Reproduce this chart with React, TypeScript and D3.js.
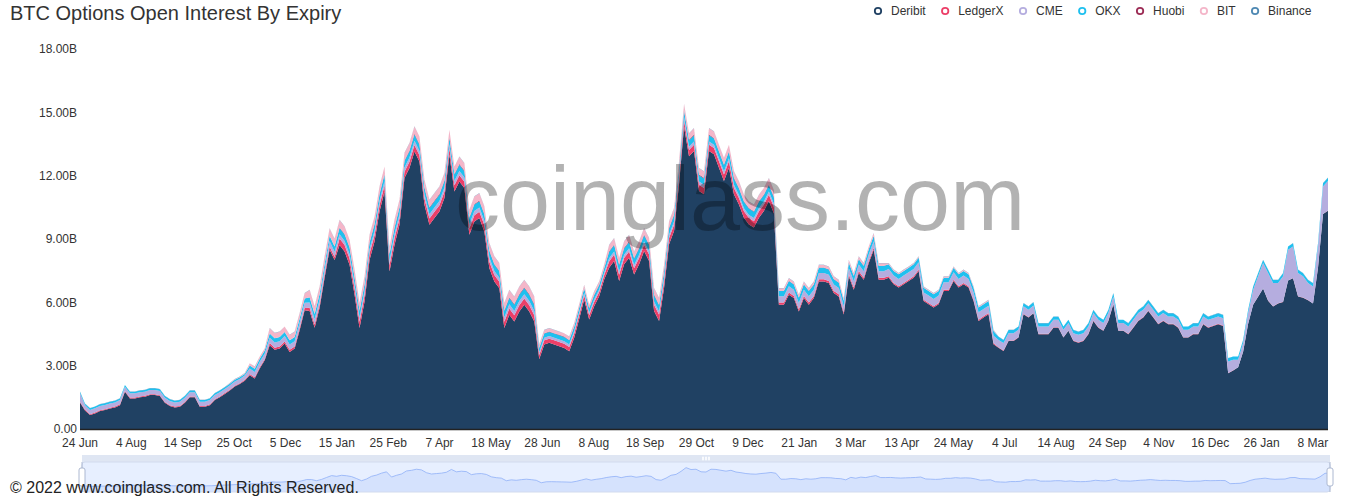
import React from 'react';
import * as d3 from 'd3';

// ---------------- DATA ----------------
const seriesNames = ['Deribit', 'LedgerX', 'CME', 'OKX', 'Huobi', 'BIT', 'Binance'];
const seriesColors = ['#204163', '#ec3f68', '#b5addf', '#1fc0ef', '#9c2c55', '#f4b6c9', '#4f89b3'];

// x-axis category labels (one label every 41 daily categories)
const xLabels = ['24 Jun', '4 Aug', '14 Sep', '25 Oct', '5 Dec', '15 Jan', '25 Feb', '7 Apr', '18 May',
  '28 Jun', '8 Aug', '18 Sep', '29 Oct', '9 Dec', '21 Jan', '3 Mar', '13 Apr', '24 May', '4 Jul',
  '14 Aug', '24 Sep', '4 Nov', '16 Dec', '26 Jan', '8 Mar'];
const categoryCount = 997;
const labelInterval = 41;

const yTicks = [0, 3, 6, 9, 12, 15, 18];

// open interest in billions USD, sampled roughly every 4 days (251 samples)
const deribit = [
  1.25, 0.88, 0.66, 0.74, 0.85, 0.90, 0.97, 1.02, 1.13, 1.76,
  1.45, 1.45, 1.50, 1.53, 1.61, 1.61, 1.56, 1.24, 1.09, 1.02,
  1.05, 1.24, 1.50, 1.50, 1.05, 1.05, 1.13, 1.37, 1.50, 1.66,
  1.82, 2.01, 2.13, 2.29, 2.55, 2.39, 2.87, 3.26, 3.97, 3.75,
  3.81, 4.05, 3.65, 3.81, 4.68, 5.63, 5.59, 4.80, 5.74, 7.17,
  8.50, 8.00, 8.72, 8.41, 7.78, 6.36, 4.78, 6.04, 8.01, 8.88,
  10.30, 11.25, 7.46, 8.72, 9.67, 11.89, 12.36, 13.15, 12.67, 10.62,
  9.67, 9.99, 10.30, 10.94, 12.99, 11.25, 11.72, 11.41, 9.20, 9.83,
  9.99, 9.36, 7.62, 6.99, 6.67, 4.78, 5.41, 5.09, 5.56, 5.88,
  5.56, 5.09, 3.31, 4.00, 4.08, 4.00, 3.92, 3.84, 3.68, 4.32,
  5.21, 6.13, 5.19, 5.82, 6.29, 7.08, 7.64, 7.96, 7.01, 7.80,
  8.11, 7.32, 7.80, 8.43, 7.96, 5.59, 5.11, 6.69, 8.75, 9.38,
  11.59, 14.32, 12.92, 13.17, 11.27, 11.12, 13.17, 13.01, 12.38, 11.75,
  12.38, 11.12, 10.64, 10.01, 9.69, 9.54, 10.01, 10.33, 10.80, 10.22,
  5.89, 5.89, 6.36, 6.20, 5.57, 6.20, 5.89, 6.20, 6.99, 6.99,
  6.91, 6.44, 6.28, 5.42, 7.23, 6.60, 7.39, 7.07, 7.86, 8.49,
  7.07, 7.07, 7.17, 6.86, 6.70, 6.86, 7.01, 7.17, 7.49, 6.06,
  5.91, 5.75, 5.91, 6.54, 6.54, 7.01, 6.70, 6.86, 6.70, 6.06,
  5.12, 5.28, 5.43, 4.01, 3.85, 3.70, 4.17, 4.17, 4.33, 5.44,
  5.28, 5.48, 4.49, 4.49, 4.49, 4.80, 4.80, 4.33, 4.65, 4.17,
  4.09, 4.17, 4.49, 5.12, 4.80, 4.65, 5.12, 5.91, 4.65, 4.65,
  4.49, 4.80, 5.12, 5.28, 5.59, 5.28, 4.96, 5.12, 4.96, 4.96,
  4.80, 4.33, 4.33, 4.49, 4.49, 4.96, 4.80, 4.88, 4.96, 4.88,
  2.64, 2.77, 2.92, 3.66, 4.98, 5.88, 6.27, 6.65, 6.08, 5.80,
  5.95, 6.02, 7.03, 7.14, 6.28, 6.22, 6.10, 5.94, 7.64, 10.18,
  10.34];

const ledgerX = [
  0.04, 0.04, 0.04, 0.04, 0.04, 0.04, 0.04, 0.04, 0.04, 0.04,
  0.04, 0.04, 0.04, 0.04, 0.04, 0.04, 0.04, 0.04, 0.04, 0.04,
  0.04, 0.04, 0.04, 0.04, 0.04, 0.04, 0.04, 0.04, 0.04, 0.04,
  0.04, 0.04, 0.04, 0.04, 0.06, 0.06, 0.06, 0.06, 0.10, 0.10,
  0.10, 0.10, 0.10, 0.10, 0.10, 0.10, 0.15, 0.15, 0.15, 0.15,
  0.15, 0.15, 0.30, 0.30, 0.30, 0.30, 0.30, 0.30, 0.30, 0.30,
  0.30, 0.30, 0.30, 0.30, 0.30, 0.30, 0.30, 0.30, 0.30, 0.30,
  0.30, 0.30, 0.30, 0.30, 0.30, 0.30, 0.30, 0.30, 0.30, 0.30,
  0.30, 0.30, 0.30, 0.30, 0.30, 0.30, 0.30, 0.30, 0.30, 0.30,
  0.30, 0.30, 0.20, 0.20, 0.20, 0.20, 0.20, 0.20, 0.20, 0.20,
  0.20, 0.20, 0.20, 0.20, 0.20, 0.20, 0.30, 0.30, 0.30, 0.30,
  0.30, 0.30, 0.30, 0.30, 0.30, 0.30, 0.30, 0.30, 0.30, 0.30,
  0.30, 0.30, 0.30, 0.30, 0.30, 0.30, 0.30, 0.30, 0.30, 0.30,
  0.30, 0.30, 0.30, 0.30, 0.30, 0.30, 0.30, 0.30, 0.30, 0.30,
  0.10, 0.10, 0.10, 0.10, 0.10, 0.10, 0.10, 0.10, 0.10, 0.10,
  0.10, 0.10, 0.10, 0.10, 0.10, 0.10, 0.10, 0.10, 0.10, 0.10,
  0.10, 0.10, 0.06, 0.06, 0.06, 0.06, 0.06, 0.06, 0.06, 0.06,
  0.06, 0.06, 0.06, 0.06, 0.06, 0.06, 0.06, 0.06, 0.06, 0.06,
  0.06, 0.06, 0.06, 0.06, 0.02, 0.02, 0.02, 0.02, 0.02, 0.02,
  0.02, 0.02, 0.02, 0.02, 0.02, 0.02, 0.02, 0.02, 0.02, 0.02,
  0.02, 0.02, 0.02, 0.02, 0.02, 0.02, 0.02, 0.02, 0.02, 0.02,
  0.02, 0.02, 0.02, 0.02, 0.02, 0.02, 0.02, 0.02, 0.02, 0.02,
  0.02, 0.02, 0.02, 0.02, 0.02, 0.02, 0.02, 0.02, 0.02, 0.02,
  0.01, 0.01, 0.01, 0.01, 0.01, 0.01, 0.01, 0.01, 0.01, 0.01,
  0.01, 0.01, 0.01, 0.01, 0.01, 0.01, 0.01, 0.01, 0.01, 0.01,
  0.01];

const cme = [
  0.40, 0.20, 0.20, 0.20, 0.20, 0.20, 0.20, 0.20, 0.20, 0.20,
  0.20, 0.20, 0.20, 0.20, 0.20, 0.20, 0.20, 0.20, 0.20, 0.20,
  0.20, 0.20, 0.20, 0.20, 0.20, 0.20, 0.20, 0.20, 0.20, 0.20,
  0.20, 0.20, 0.20, 0.20, 0.25, 0.25, 0.25, 0.25, 0.25, 0.25,
  0.25, 0.25, 0.25, 0.25, 0.25, 0.25, 0.25, 0.25, 0.25, 0.25,
  0.25, 0.25, 0.20, 0.20, 0.20, 0.20, 0.20, 0.20, 0.20, 0.20,
  0.20, 0.20, 0.20, 0.20, 0.20, 0.20, 0.20, 0.20, 0.20, 0.20,
  0.20, 0.20, 0.20, 0.20, 0.20, 0.20, 0.20, 0.20, 0.20, 0.20,
  0.20, 0.20, 0.20, 0.20, 0.20, 0.20, 0.20, 0.20, 0.20, 0.20,
  0.20, 0.20, 0.12, 0.12, 0.12, 0.12, 0.12, 0.12, 0.12, 0.12,
  0.12, 0.12, 0.12, 0.12, 0.12, 0.12, 0.15, 0.15, 0.15, 0.15,
  0.15, 0.15, 0.15, 0.15, 0.15, 0.15, 0.15, 0.15, 0.15, 0.15,
  0.15, 0.15, 0.15, 0.15, 0.15, 0.15, 0.15, 0.15, 0.15, 0.15,
  0.15, 0.15, 0.15, 0.15, 0.15, 0.15, 0.15, 0.15, 0.15, 0.15,
  0.30, 0.30, 0.30, 0.30, 0.30, 0.30, 0.30, 0.30, 0.30, 0.30,
  0.30, 0.30, 0.30, 0.30, 0.30, 0.30, 0.30, 0.30, 0.30, 0.30,
  0.30, 0.30, 0.35, 0.35, 0.35, 0.35, 0.35, 0.35, 0.35, 0.35,
  0.35, 0.35, 0.35, 0.35, 0.35, 0.35, 0.35, 0.35, 0.35, 0.35,
  0.35, 0.35, 0.35, 0.35, 0.35, 0.35, 0.35, 0.35, 0.35, 0.35,
  0.35, 0.35, 0.35, 0.35, 0.35, 0.35, 0.35, 0.35, 0.35, 0.35,
  0.35, 0.35, 0.35, 0.35, 0.35, 0.35, 0.35, 0.35, 0.35, 0.35,
  0.35, 0.35, 0.35, 0.35, 0.35, 0.35, 0.35, 0.35, 0.35, 0.35,
  0.35, 0.35, 0.35, 0.35, 0.35, 0.35, 0.35, 0.35, 0.35, 0.35,
  0.55, 0.50, 0.35, 0.40, 0.50, 0.70, 0.95, 1.20, 1.30, 1.10,
  0.95, 1.20, 1.45, 1.50, 1.10, 1.00, 0.80, 0.80, 1.00, 1.30,
  1.40];

const okx = [
  0.08, 0.08, 0.08, 0.08, 0.08, 0.08, 0.08, 0.08, 0.08, 0.08,
  0.08, 0.08, 0.08, 0.08, 0.08, 0.08, 0.08, 0.08, 0.08, 0.08,
  0.08, 0.08, 0.08, 0.08, 0.08, 0.08, 0.08, 0.08, 0.08, 0.08,
  0.08, 0.08, 0.08, 0.08, 0.15, 0.15, 0.15, 0.15, 0.20, 0.20,
  0.20, 0.20, 0.20, 0.20, 0.20, 0.20, 0.25, 0.25, 0.25, 0.25,
  0.25, 0.25, 0.30, 0.30, 0.30, 0.30, 0.30, 0.30, 0.30, 0.30,
  0.30, 0.30, 0.30, 0.30, 0.30, 0.30, 0.30, 0.30, 0.30, 0.30,
  0.30, 0.30, 0.30, 0.30, 0.30, 0.30, 0.30, 0.30, 0.30, 0.30,
  0.30, 0.30, 0.30, 0.30, 0.30, 0.30, 0.30, 0.30, 0.30, 0.30,
  0.30, 0.30, 0.20, 0.20, 0.20, 0.20, 0.20, 0.20, 0.20, 0.20,
  0.20, 0.20, 0.20, 0.20, 0.20, 0.20, 0.30, 0.30, 0.30, 0.30,
  0.30, 0.30, 0.30, 0.30, 0.30, 0.30, 0.30, 0.30, 0.30, 0.30,
  0.30, 0.30, 0.30, 0.30, 0.30, 0.30, 0.30, 0.30, 0.30, 0.30,
  0.30, 0.30, 0.30, 0.30, 0.30, 0.30, 0.30, 0.30, 0.30, 0.30,
  0.25, 0.25, 0.25, 0.25, 0.25, 0.25, 0.25, 0.25, 0.25, 0.25,
  0.25, 0.25, 0.25, 0.25, 0.25, 0.25, 0.25, 0.25, 0.25, 0.25,
  0.25, 0.25, 0.22, 0.22, 0.22, 0.22, 0.22, 0.22, 0.22, 0.22,
  0.22, 0.22, 0.22, 0.22, 0.22, 0.22, 0.22, 0.22, 0.22, 0.22,
  0.22, 0.22, 0.22, 0.22, 0.15, 0.15, 0.15, 0.15, 0.15, 0.15,
  0.15, 0.15, 0.15, 0.15, 0.15, 0.15, 0.15, 0.15, 0.15, 0.15,
  0.15, 0.15, 0.15, 0.15, 0.15, 0.15, 0.15, 0.15, 0.15, 0.15,
  0.15, 0.15, 0.15, 0.15, 0.15, 0.15, 0.15, 0.15, 0.15, 0.15,
  0.15, 0.15, 0.15, 0.15, 0.15, 0.15, 0.15, 0.15, 0.15, 0.15,
  0.15, 0.15, 0.15, 0.15, 0.15, 0.15, 0.15, 0.15, 0.15, 0.15,
  0.15, 0.15, 0.15, 0.15, 0.15, 0.15, 0.15, 0.15, 0.15, 0.15,
  0.15];

const huobi = [
  0, 0, 0, 0, 0, 0, 0, 0, 0, 0,
  0, 0, 0, 0, 0, 0, 0, 0, 0, 0,
  0, 0, 0, 0, 0, 0, 0, 0, 0, 0,
  0, 0, 0, 0, 0, 0, 0, 0, 0, 0,
  0, 0, 0, 0, 0, 0, 0, 0, 0, 0,
  0, 0, 0.03, 0.03, 0.03, 0.03, 0.03, 0.03, 0.03, 0.03,
  0.03, 0.03, 0.03, 0.03, 0.03, 0.03, 0.03, 0.03, 0.03, 0.03,
  0.03, 0.03, 0.03, 0.03, 0.03, 0.03, 0.03, 0.03, 0.03, 0.03,
  0.03, 0.03, 0.03, 0.03, 0.03, 0.03, 0.03, 0.03, 0.03, 0.03,
  0.03, 0.03, 0.02, 0.02, 0.02, 0.02, 0.02, 0.02, 0.02, 0.02,
  0.02, 0.02, 0.02, 0.02, 0.02, 0.02, 0.03, 0.03, 0.03, 0.03,
  0.03, 0.03, 0.03, 0.03, 0.03, 0.03, 0.03, 0.03, 0.03, 0.03,
  0.03, 0.03, 0.03, 0.03, 0.03, 0.03, 0.03, 0.03, 0.03, 0.03,
  0.03, 0.03, 0.03, 0.03, 0.03, 0.03, 0.03, 0.03, 0.03, 0.03,
  0.01, 0.01, 0.01, 0.01, 0.01, 0.01, 0.01, 0.01, 0.01, 0.01,
  0.01, 0.01, 0.01, 0.01, 0.01, 0.01, 0.01, 0.01, 0.01, 0.01,
  0.01, 0.01, 0, 0, 0, 0, 0, 0, 0, 0,
  0, 0, 0, 0, 0, 0, 0, 0, 0, 0,
  0, 0, 0, 0, 0, 0, 0, 0, 0, 0,
  0, 0, 0, 0, 0, 0, 0, 0, 0, 0,
  0, 0, 0, 0, 0, 0, 0, 0, 0, 0,
  0, 0, 0, 0, 0, 0, 0, 0, 0, 0,
  0, 0, 0, 0, 0, 0, 0, 0, 0, 0,
  0, 0, 0, 0, 0, 0, 0, 0, 0, 0,
  0, 0, 0, 0, 0, 0, 0, 0, 0, 0,
  0];

const bit = [
  0, 0, 0, 0, 0, 0, 0, 0, 0, 0,
  0, 0, 0, 0, 0, 0, 0, 0, 0, 0,
  0, 0, 0, 0, 0, 0, 0, 0, 0, 0,
  0.03, 0.03, 0.03, 0.03, 0.10, 0.10, 0.10, 0.10, 0.25, 0.25,
  0.25, 0.25, 0.25, 0.25, 0.25, 0.25, 0.35, 0.35, 0.35, 0.35,
  0.35, 0.35, 0.35, 0.35, 0.35, 0.35, 0.35, 0.35, 0.35, 0.35,
  0.35, 0.35, 0.35, 0.35, 0.35, 0.35, 0.35, 0.35, 0.35, 0.35,
  0.35, 0.35, 0.35, 0.35, 0.35, 0.35, 0.35, 0.35, 0.35, 0.35,
  0.35, 0.35, 0.35, 0.35, 0.35, 0.35, 0.35, 0.35, 0.35, 0.35,
  0.35, 0.35, 0.15, 0.15, 0.15, 0.15, 0.15, 0.15, 0.15, 0.15,
  0.15, 0.15, 0.15, 0.15, 0.15, 0.15, 0.30, 0.30, 0.30, 0.30,
  0.30, 0.30, 0.30, 0.30, 0.30, 0.30, 0.30, 0.30, 0.30, 0.30,
  0.30, 0.30, 0.30, 0.30, 0.30, 0.30, 0.30, 0.30, 0.30, 0.30,
  0.30, 0.30, 0.30, 0.30, 0.30, 0.30, 0.30, 0.30, 0.30, 0.30,
  0.12, 0.12, 0.12, 0.12, 0.12, 0.12, 0.12, 0.12, 0.12, 0.12,
  0.12, 0.12, 0.12, 0.12, 0.12, 0.12, 0.12, 0.12, 0.12, 0.12,
  0.12, 0.12, 0.05, 0.05, 0.05, 0.05, 0.05, 0.05, 0.05, 0.05,
  0.05, 0.05, 0.05, 0.05, 0.05, 0.05, 0.05, 0.05, 0.05, 0.05,
  0.05, 0.05, 0.05, 0.05, 0, 0, 0, 0, 0, 0,
  0, 0, 0, 0, 0, 0, 0, 0, 0, 0,
  0, 0, 0, 0, 0, 0, 0, 0, 0, 0,
  0, 0, 0, 0, 0, 0, 0, 0, 0, 0,
  0, 0, 0, 0, 0, 0, 0, 0, 0, 0,
  0, 0, 0, 0, 0, 0, 0, 0, 0, 0,
  0, 0, 0, 0, 0, 0, 0, 0, 0, 0,
  0];

const binance = [
  0.01, 0.01, 0.01, 0.01, 0.01, 0.01, 0.01, 0.01, 0.01, 0.01,
  0.01, 0.01, 0.01, 0.01, 0.01, 0.01, 0.01, 0.01, 0.01, 0.01,
  0.01, 0.01, 0.01, 0.01, 0.01, 0.01, 0.01, 0.01, 0.01, 0.01,
  0.01, 0.01, 0.01, 0.01, 0.01, 0.01, 0.01, 0.01, 0.01, 0.01,
  0.01, 0.01, 0.01, 0.01, 0.01, 0.01, 0.01, 0.01, 0.01, 0.01,
  0.01, 0.01, 0.01, 0.01, 0.01, 0.01, 0.01, 0.01, 0.01, 0.01,
  0.01, 0.01, 0.01, 0.01, 0.01, 0.01, 0.01, 0.01, 0.01, 0.01,
  0.01, 0.01, 0.01, 0.01, 0.01, 0.01, 0.01, 0.01, 0.01, 0.01,
  0.01, 0.01, 0.01, 0.01, 0.01, 0.01, 0.01, 0.01, 0.01, 0.01,
  0.01, 0.01, 0.01, 0.01, 0.01, 0.01, 0.01, 0.01, 0.01, 0.01,
  0.01, 0.01, 0.01, 0.01, 0.01, 0.01, 0.01, 0.01, 0.01, 0.01,
  0.01, 0.01, 0.01, 0.01, 0.01, 0.01, 0.01, 0.01, 0.01, 0.01,
  0.01, 0.01, 0.01, 0.01, 0.01, 0.01, 0.01, 0.01, 0.01, 0.01,
  0.01, 0.01, 0.01, 0.01, 0.01, 0.01, 0.01, 0.01, 0.01, 0.01,
  0.01, 0.01, 0.01, 0.01, 0.01, 0.01, 0.01, 0.01, 0.01, 0.01,
  0.01, 0.01, 0.01, 0.01, 0.01, 0.01, 0.01, 0.01, 0.01, 0.01,
  0.01, 0.01, 0.01, 0.01, 0.01, 0.01, 0.01, 0.01, 0.01, 0.01,
  0.01, 0.01, 0.01, 0.01, 0.01, 0.01, 0.01, 0.01, 0.01, 0.01,
  0.01, 0.01, 0.01, 0.01, 0.01, 0.01, 0.01, 0.01, 0.01, 0.01,
  0.01, 0.01, 0.01, 0.01, 0.01, 0.01, 0.01, 0.01, 0.01, 0.01,
  0.01, 0.01, 0.01, 0.01, 0.01, 0.01, 0.01, 0.01, 0.01, 0.01,
  0.01, 0.01, 0.01, 0.01, 0.01, 0.01, 0.01, 0.01, 0.01, 0.01,
  0.01, 0.01, 0.01, 0.01, 0.01, 0.01, 0.01, 0.01, 0.01, 0.01,
  0.01, 0.01, 0.01, 0.01, 0.01, 0.01, 0.01, 0.01, 0.01, 0.01,
  0.01, 0.01, 0.01, 0.01, 0.01, 0.01, 0.01, 0.01, 0.01, 0.01,
  0.01];

const seriesData = [deribit, ledgerX, cme, okx, huobi, bit, binance];

// ---------------- LAYOUT ----------------
const W = 1370;
const H = 500;
const FONT = '"Liberation Sans", Arial, Helvetica, sans-serif';
const plotLeft = 80;
const plotRight = 1328;
const plotTop = 49;
const plotBottom = 429;

function measure(text: string, size: number): number {
  try {
    const c = document.createElement('canvas').getContext('2d');
    if (c) {
      c.font = `${size}px ${FONT}`;
      return c.measureText(text).width;
    }
  } catch (e) { /* ignore */ }
  return text.length * size * 0.55;
}

export default function App() {
  const n = deribit.length;
  const rows = d3.range(n).map((i) => {
    const r: Record<string, number> = {};
    seriesNames.forEach((name, k) => { r[name] = seriesData[k][i] ?? 0; });
    return r;
  });
  const stacked = d3.stack<Record<string, number>>().keys(seriesNames)(rows);

  const xs = d3.scaleLinear().domain([0, n - 1]).range([plotLeft, plotRight]);
  const xc = d3.scaleLinear().domain([0, categoryCount - 1]).range([plotLeft, plotRight]);
  const y = d3.scaleLinear().domain([0, 18]).range([plotBottom, plotTop]);

  const area = d3.area<d3.SeriesPoint<Record<string, number>>>()
    .x((_, i) => xs(i))
    .y0((d) => y(d[0]))
    .y1((d) => y(d[1]));

  // data zoom slider
  const sLeft = 82;
  const sRight = 1330;
  const sTop = 462;
  const sBottom = 492;
  const ext = d3.extent(deribit) as [number, number];
  const off = (ext[1] - ext[0]) * 0.3;
  const ys = d3.scaleLinear().domain([ext[0] - off, ext[1] + off]).range([sBottom, sTop]);
  const xsl = d3.scaleLinear().domain([0, n - 1]).range([sLeft, sRight]);
  const miniArea = d3.area<number>().x((_, i) => xsl(i)).y0(sBottom).y1((d) => ys(d))(deribit) || '';
  const miniLine = d3.line<number>().x((_, i) => xsl(i)).y((d) => ys(d))(deribit) || '';

  // legend layout
  const legendItems: { name: string; color: string; mx: number; tx: number }[] = [];
  let cursor = 878;
  seriesNames.forEach((name, k) => {
    const mx = cursor;
    const tx = mx + 13;
    legendItems.push({ name, color: seriesColors[k], mx, tx });
    cursor = tx + measure(name, 12) + 19.5;
  });

  const handle = (cx: number) => (
    <g key={cx}>
      <line x1={cx} x2={cx} y1={sTop} y2={sTop + 6} stroke="#ACB8D1" strokeWidth={1} />
      <line x1={cx} x2={cx} y1={sBottom - 6} y2={sBottom} stroke="#ACB8D1" strokeWidth={1} />
      <rect x={cx - 3} y={sTop + 6} width={6} height={18} rx={2} fill="#fff" stroke="#ACB8D1" strokeWidth={1} />
    </g>
  );
  const gripX = (sLeft + sRight) / 2;

  return (
    <svg width={W} height={H} style={{ position: 'absolute', left: 0, top: 0, background: '#fff' }} fontFamily={FONT}>
      <rect x={0} y={0} width={W} height={H} fill="#fff" />
      {/* title */}
      <text x={10} y={20} fontSize={20} fill="#333">BTC Options Open Interest By Expiry</text>

      {/* legend */}
      {legendItems.map((it) => (
        <g key={it.name}>
          <circle cx={it.mx} cy={11} r={3.2} fill="#fff" stroke={it.color} strokeWidth={1.8} />
          <text x={it.tx} y={15} fontSize={12} fill="#333">{it.name}</text>
        </g>
      ))}

      {/* y-axis labels */}
      {yTicks.map((t) => (
        <text key={t} x={77} y={y(t)} dy="0.35em" textAnchor="end" fontSize={12} fill="#333">
          {t === 0 ? '0.00' : `${t.toFixed(2)}B`}
        </text>
      ))}

      {/* stacked areas */}
      {stacked.map((s, k) => (
        <path key={s.key} d={area(s) || ''} fill={seriesColors[k]} />
      ))}

      {/* x axis */}
      <line x1={plotLeft} x2={plotRight} y1={plotBottom + 0.5} y2={plotBottom + 0.5} stroke="#222" strokeWidth={1.5} />
      {xLabels.map((lab, k) => (
        <text key={lab + k} x={xc(k * labelInterval)} y={447} textAnchor="middle" fontSize={12} fill="#333">{lab}</text>
      ))}

      {/* watermark */}
      <text x={740} y={230} textAnchor="middle" fontSize={90} fill="#000" fillOpacity={0.3}>coinglass.com</text>

      {/* data zoom slider */}
      <rect x={sLeft} y={sTop - 7} width={sRight - sLeft} height={7} fill="#d2dbee" fillOpacity={0.7} />
      {[-3, 0, 3].map((d) => (
        <rect key={d} x={gripX + d - 0.8} y={sTop - 5.5} width={1.6} height={4} rx={0.8} fill="#fff" />
      ))}
      <rect x={sLeft} y={sTop} width={sRight - sLeft} height={sBottom - sTop} fill="rgb(135,175,255)" fillOpacity={0.2} />
      <path d={miniArea} fill="#8fb0f7" fillOpacity={0.2} />
      <path d={miniLine} fill="none" stroke="#8fb0f7" strokeWidth={0.8} />
      <rect x={sLeft} y={sTop} width={sRight - sLeft} height={sBottom - sTop} rx={3} fill="none" stroke="#d2dbee" />
      {handle(sLeft)}
      {handle(sRight)}

      {/* footer */}
      <text x={10} y={493} fontSize={16} fill="#222">© 2022 www.coinglass.com. All Rights Reserved.</text>
    </svg>
  );
}
